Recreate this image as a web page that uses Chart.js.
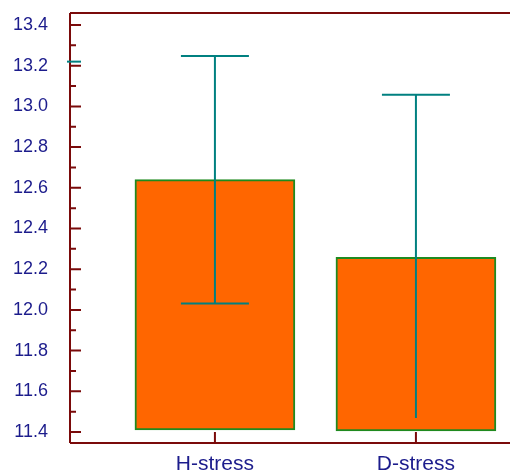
<!DOCTYPE html>
<html>
<head>
<meta charset="utf-8">
<script src="https://cdn.jsdelivr.net/npm/chart.js@4/dist/chart.umd.min.js"></script>
<style>
html,body{margin:0;padding:0;background:#fff;overflow:hidden;}
#wrap{width:510px;height:472px;position:relative;}
</style>
</head>
<body>
<div id="wrap"><canvas id="c"></canvas></div>
<script>
// ---- data ----
const categories = ['H-stress', 'D-stress'];
const catPositions = [1, 2];
const barBase = [11.41, 11.405];
const barTop = [12.64, 12.258];
const errHigh = [13.248, 13.057];
const errLow = [12.032, 11.469];
const errLowCap = [true, false];
const yMajorTicks = [11.4, 11.6, 11.8, 12.0, 12.2, 12.4, 12.6, 12.8, 13.0, 13.2, 13.4];
const yMinorTicks = [11.5, 11.7, 11.9, 12.1, 12.3, 12.5, 12.7, 12.9, 13.1, 13.3];
const refMark = [13.22];

const AXIS = '#7a0a0a';
const TEAL = '#008080';
const LABEL = '#1c1c8c';

const framePlugin = {
  id: 'frame',
  afterDatasetsDraw(chart) {
    const {ctx, chartArea: a, scales: {x, y}} = chart;
    ctx.save();
    // error bars
    ctx.strokeStyle = TEAL;
    ctx.lineWidth = 2;
    catPositions.forEach((p, i) => {
      const px = x.getPixelForValue(p);
      const yh = y.getPixelForValue(errHigh[i]);
      const yl = y.getPixelForValue(errLow[i]);
      ctx.beginPath();
      ctx.moveTo(px, yh); ctx.lineTo(px, yl);
      ctx.moveTo(px - 34, yh); ctx.lineTo(px + 34, yh);
      if (errLowCap[i]) { ctx.moveTo(px - 34, yl); ctx.lineTo(px + 34, yl); }
      ctx.stroke();
    });
    // frame lines
    ctx.strokeStyle = AXIS;
    ctx.lineWidth = 2;
    ctx.beginPath();
    ctx.moveTo(a.left, a.top); ctx.lineTo(a.right, a.top);
    ctx.moveTo(a.left, a.top); ctx.lineTo(a.left, a.bottom);
    ctx.moveTo(a.left, a.bottom); ctx.lineTo(a.right, a.bottom);
    ctx.stroke();
    // inward ticks
    ctx.beginPath();
    yMajorTicks.forEach(v => { const py = y.getPixelForValue(v); ctx.moveTo(a.left, py); ctx.lineTo(a.left + 11, py); });
    yMinorTicks.forEach(v => { const py = y.getPixelForValue(v); ctx.moveTo(a.left, py); ctx.lineTo(a.left + 6, py); });
    catPositions.forEach(p => { const px = x.getPixelForValue(p); ctx.moveTo(px, a.bottom); ctx.lineTo(px, a.bottom - 11); });
    ctx.stroke();
    // reference mark on y axis
    ctx.strokeStyle = TEAL;
    ctx.beginPath();
    refMark.forEach(v => { const py = y.getPixelForValue(v); ctx.moveTo(a.left - 3, py); ctx.lineTo(a.left + 11, py); });
    ctx.stroke();
    ctx.restore();
  }
};

new Chart(document.getElementById('c'), {
  type: 'bar',
  data: {
    datasets: [{
      data: catPositions.map((p, i) => ({x: p, y: [barBase[i], barTop[i]]})),
      backgroundColor: '#ff6600',
      borderColor: '#1f8a1f',
      borderWidth: 2,
      borderSkipped: false,
      barThickness: 160
    }]
  },
  options: {
    responsive: true,
    maintainAspectRatio: false,
    animation: false,
    events: [],
    layout: {padding: {top: 13, right: 0, left: 0, bottom: 0}},
    plugins: {legend: {display: false}, tooltip: {enabled: false}},
    scales: {
      x: {
        type: 'linear',
        offset: false,
        min: 0.279,
        max: 2.468,
        afterBuildTicks: s => { s.ticks = catPositions.map(v => ({value: v})); },
        afterFit: s => { s.height = 29; s.paddingLeft = 0; s.paddingRight = 0; },
        grid: {display: false, drawTicks: false},
        border: {display: false},
        ticks: {
          padding: 9,
          color: LABEL,
          font: {family: 'Liberation Sans', size: 21},
          callback: v => categories[catPositions.indexOf(v)] ?? ''
        }
      },
      y: {
        min: 11.346,
        max: 13.459,
        afterBuildTicks: s => { s.ticks = yMajorTicks.map(v => ({value: v})); },
        afterFit: s => { s.width = 70; s.paddingTop = 0; s.paddingBottom = 0; },
        grid: {display: false, drawTicks: false},
        border: {display: false},
        ticks: {
          padding: 22,
          color: LABEL,
          font: {family: 'Liberation Sans', size: 18},
          callback: v => v.toFixed(1)
        }
      }
    }
  },
  plugins: [framePlugin]
});
</script>
</body>
</html>
